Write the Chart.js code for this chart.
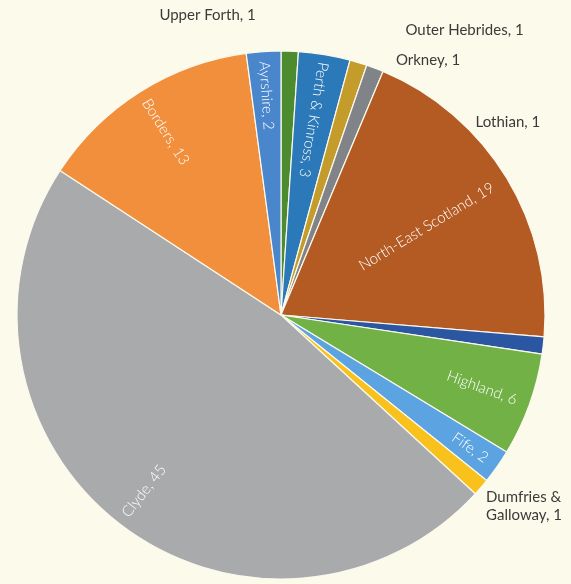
<!DOCTYPE html>
<html lang="en">
<head>
<meta charset="UTF-8">
<title>Regions</title>
<style>
    html, body {
        margin: 0;
        padding: 0;
        background: #fcfbeb;
    }
    #wrap {
        width: 571px;
        height: 584px;
    }
</style>
<script src="https://cdn.jsdelivr.net/npm/chart.js"></script>
</head>
<body>
<div id="wrap">
    <canvas id="pie" width="571" height="584"></canvas>
</div>
<script>
    // slices go clockwise from 12 o'clock
    var regions = ['Upper Forth', 'Perth & Kinross', 'Outer Hebrides', 'Orkney', 'North-East Scotland',
        'Lothian', 'Highland', 'Fife', 'Dumfries & Galloway', 'Clyde', 'Borders', 'Ayrshire'];
    var counts = [1, 3, 1, 1, 19, 1, 6, 2, 1, 45, 13, 2];
    var colours = ['#4d8b2f', '#2b79b8', '#c49c2c', '#808387', '#b45a23', '#2b56a2',
        '#71b145', '#5ca3e1', '#f8c11c', '#a9aaac', '#f18f3c', '#4a86cc'];

    // white labels sitting inside the slice: distance from centre as share of radius
    var insideAt = {
        'Perth & Kinross': 0.75, 'North-East Scotland': 0.645, 'Highland': 0.81,
        'Fife': 0.875, 'Clyde': 0.845, 'Borders': 0.82, 'Ayrshire': 0.833
    };
    // dark labels outside the pie: offset from the slice's outer edge, text alignment
    var outsideAt = {
        'Upper Forth': { dx: -34, dy: -36, align: 'right' },
        'Outer Hebrides': { dx: 47, dy: -32, align: 'left' },
        'Orkney': { dx: 21, dy: -8, align: 'left' },
        'Lothian': { dx: -3, dy: -223, align: 'right' },
        'Dumfries & Galloway': { dx: 5, dy: 19, align: 'left', lines: ['Dumfries &', 'Galloway, 1'] }
    };

    var FONT_IN = '300 15px Lato, sans-serif';
    var FONT_OUT = '15px Lato, sans-serif';

    var sliceLabels = {
        id: 'sliceLabels',
        afterDatasetsDraw: function (chart) {
            var ctx = chart.ctx;
            var arcs = chart.getDatasetMeta(0).data;
            ctx.save();
            ctx.textBaseline = 'middle';
            arcs.forEach(function (arc, i) {
                var p = arc.getProps(['x', 'y', 'startAngle', 'endAngle', 'outerRadius']);
                var mid = (p.startAngle + p.endAngle) / 2;
                var name = regions[i];
                var text = name + ', ' + counts[i];

                if (insideAt[name] !== undefined) {
                    var r = p.outerRadius * insideAt[name];
                    var deg = mid * 180 / Math.PI + 90; // clockwise from top
                    deg = ((deg % 360) + 360) % 360;
                    var rot = (deg > 45 && deg < 180) ? mid : mid + Math.PI;
                    ctx.save();
                    ctx.font = FONT_IN;
                    ctx.translate(p.x + Math.cos(mid) * r, p.y + Math.sin(mid) * r);
                    ctx.rotate(rot);
                    ctx.fillStyle = '#ffffff';
                    ctx.textAlign = 'center';
                    ctx.fillText(text, 0, 0);
                    ctx.restore();
                } else if (outsideAt[name]) {
                    var o = outsideAt[name];
                    var ax = p.x + Math.cos(mid) * p.outerRadius + o.dx;
                    var ay = p.y + Math.sin(mid) * p.outerRadius + o.dy;
                    var lines = o.lines || [text];
                    ctx.font = FONT_OUT;
                    ctx.fillStyle = '#3a3a3a';
                    ctx.textAlign = o.align;
                    lines.forEach(function (ln, k) {
                        ctx.fillText(ln, ax, ay + (k - (lines.length - 1) / 2) * 18);
                    });
                }
            });
            ctx.restore();
        }
    };

    new Chart(document.getElementById('pie'), {
        type: 'pie',
        data: {
            labels: regions,
            datasets: [{
                data: counts,
                backgroundColor: colours,
                borderColor: '#fbf9ee',
                borderWidth: 1.2,
                radius: 264
            }]
        },
        options: {
            responsive: false,
            animation: false,
            layout: { padding: { left: 0, right: 9, top: 46, bottom: 0 } },
            plugins: {
                legend: { display: false },
                tooltip: { enabled: false }
            }
        },
        plugins: [sliceLabels]
    });
</script>
</body>
</html>
